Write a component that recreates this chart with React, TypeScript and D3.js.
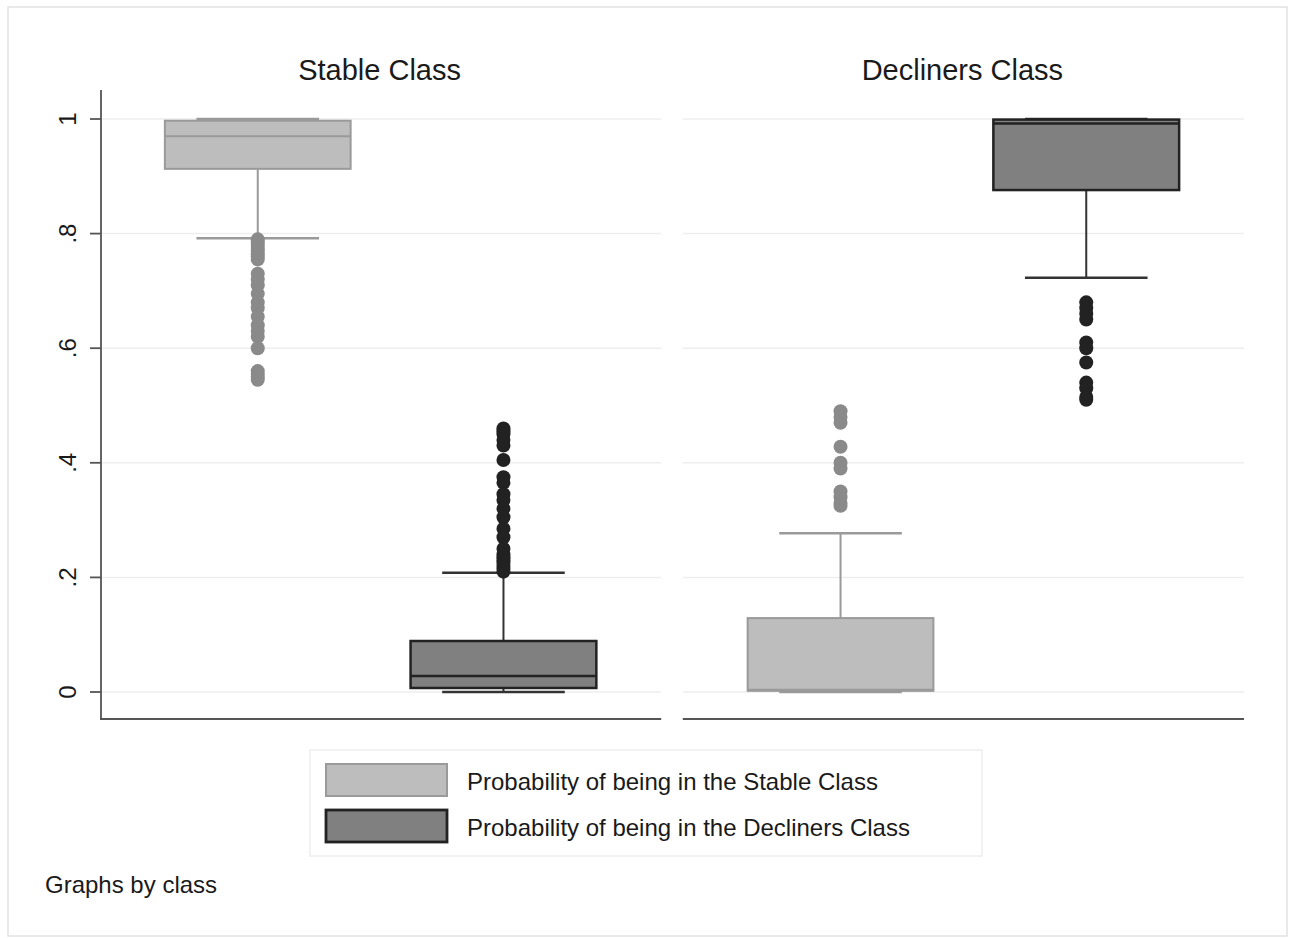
import React from 'react';
import { scaleBand, scaleLinear } from 'd3';

// panels and series
const panels = ['Stable Class', 'Decliners Class'];
const seriesNames = [
  'Probability of being in the Stable Class',
  'Probability of being in the Decliners Class',
];
const yTicks = [0, 0.2, 0.4, 0.6, 0.8, 1];
const yTickLabels = ['0', '.2', '.4', '.6', '.8', '1'];

// box stats: [lower whisker, q1, median, q3, upper whisker]
const stableClassStableProb = [0.792, 0.913, 0.970, 0.997, 1.0];
const stableClassDeclinersProb = [0.0, 0.007, 0.028, 0.089, 0.208];
const declinersClassStableProb = [0.0, 0.002, 0.004, 0.129, 0.277];
const declinersClassDeclinersProb = [0.723, 0.876, 0.992, 0.999, 1.0];

// outliers
const stableClassStableOut = [0.79, 0.785, 0.78, 0.775, 0.77, 0.765, 0.76, 0.755, 0.73, 0.72, 0.71, 0.695, 0.68, 0.67, 0.655, 0.64, 0.63, 0.62, 0.6, 0.56, 0.555, 0.55, 0.545];
const stableClassDeclinersOut = [0.46, 0.455, 0.45, 0.44, 0.43, 0.405, 0.375, 0.365, 0.345, 0.335, 0.32, 0.305, 0.285, 0.27, 0.25, 0.24, 0.235, 0.23, 0.225, 0.22, 0.215, 0.21];
const declinersClassStableOut = [0.49, 0.48, 0.47, 0.428, 0.4, 0.39, 0.35, 0.34, 0.33, 0.325];
const declinersClassDeclinersOut = [0.68, 0.67, 0.66, 0.65, 0.61, 0.6, 0.575, 0.54, 0.53, 0.515, 0.51];

const boxes = [
  [stableClassStableProb, stableClassDeclinersProb],
  [declinersClassStableProb, declinersClassDeclinersProb],
];
const outliers = [
  [stableClassStableOut, stableClassDeclinersOut],
  [declinersClassStableOut, declinersClassDeclinersOut],
];

const styles = [
  { fill: '#bdbdbd', stroke: '#9a9a9a', line: '#9a9a9a', dot: '#8a8a8a', sw: 2 },
  { fill: '#808080', stroke: '#222', line: '#333', dot: '#222', sw: 2.5 },
];

const font = 'Liberation Sans, Arial, Helvetica, sans-serif';

export default function App() {
  const W = 1295, H = 938;
  const y = scaleLinear().domain([0, 1]).range([692, 119]);
  const panelX = scaleBand<string>().domain(panels).range([100, 1244]).paddingInner(0.037);
  const inner = scaleBand<string>().domain(seriesNames).range([0, panelX.bandwidth()]).paddingInner(0.244).paddingOuter(0.264);
  const bw = inner.bandwidth();

  return (
    <svg width={W} height={H} style={{ position: 'absolute', left: 0, top: 0, background: '#fff' }} fontFamily={font}>
      <rect x={8} y={7} width={1279} height={929} fill="#fff" stroke="#e2e2e2" strokeWidth={1.5} />
      {panels.map((p, pi) => {
        const x0 = panelX(p)!;
        const pw = panelX.bandwidth();
        return (
          <g key={p}>
            <text x={x0 + pw / 2 - 1} y={80} textAnchor="middle" fontSize={29} fill="#1a1a1a">{p}</text>
            {yTicks.map(t => (
              <line key={t} x1={x0 + (pi === 0 ? 1 : 0)} x2={x0 + pw} y1={y(t)} y2={y(t)} stroke="#eeeeee" strokeWidth={1.5} />
            ))}
            <line x1={x0} x2={x0 + pw} y1={719} y2={719} stroke="#555" strokeWidth={1.8} />
            {seriesNames.map((s, si) => {
              const [lo, q1, med, q3, hi] = boxes[pi][si];
              const st = styles[si];
              const cx = x0 + inner(s)! + bw / 2;
              const cap = bw * 0.33;
              return (
                <g key={s}>
                  <line x1={cx} x2={cx} y1={y(q3)} y2={y(hi)} stroke={st.line} strokeWidth={2} />
                  <line x1={cx} x2={cx} y1={y(q1)} y2={y(lo)} stroke={st.line} strokeWidth={2} />
                  <line x1={cx - cap} x2={cx + cap} y1={y(hi)} y2={y(hi)} stroke={st.line} strokeWidth={2.5} />
                  <line x1={cx - cap} x2={cx + cap} y1={y(lo)} y2={y(lo)} stroke={st.line} strokeWidth={2.5} />
                  <rect x={cx - bw / 2} y={y(q3)} width={bw} height={y(q1) - y(q3)} fill={st.fill} stroke={st.stroke} strokeWidth={st.sw} />
                  <line x1={cx - bw / 2} x2={cx + bw / 2} y1={y(med)} y2={y(med)} stroke={st.stroke} strokeWidth={st.sw} />
                  {outliers[pi][si].map((v, i) => (
                    <circle key={i} cx={cx} cy={y(v)} r={7} fill={st.dot} />
                  ))}
                </g>
              );
            })}
          </g>
        );
      })}
      {/* y axis */}
      <line x1={101} x2={101} y1={90} y2={720} stroke="#555" strokeWidth={1.8} />
      {yTicks.map((t, i) => (
        <g key={t}>
          <line x1={90} x2={101} y1={y(t)} y2={y(t)} stroke="#555" strokeWidth={1.8} />
          <text transform={`translate(${76},${y(t)}) rotate(-90)`} textAnchor="middle" fontSize={24} fill="#1a1a1a">{yTickLabels[i]}</text>
        </g>
      ))}
      {/* legend */}
      <rect x={310} y={750} width={672} height={106} fill="#fff" stroke="#eeeeee" strokeWidth={1.5} />
      {seriesNames.map((s, si) => (
        <g key={s}>
          <rect x={326} y={764 + si * 46} width={121} height={32} fill={styles[si].fill} stroke={styles[si].stroke} strokeWidth={si === 0 ? 2 : 2.8} />
          <text x={467} y={790 + si * 46} fontSize={24} fill="#1a1a1a">{s}</text>
        </g>
      ))}
      <text x={45} y={893} fontSize={24} fill="#1a1a1a">Graphs by class</text>
    </svg>
  );
}
